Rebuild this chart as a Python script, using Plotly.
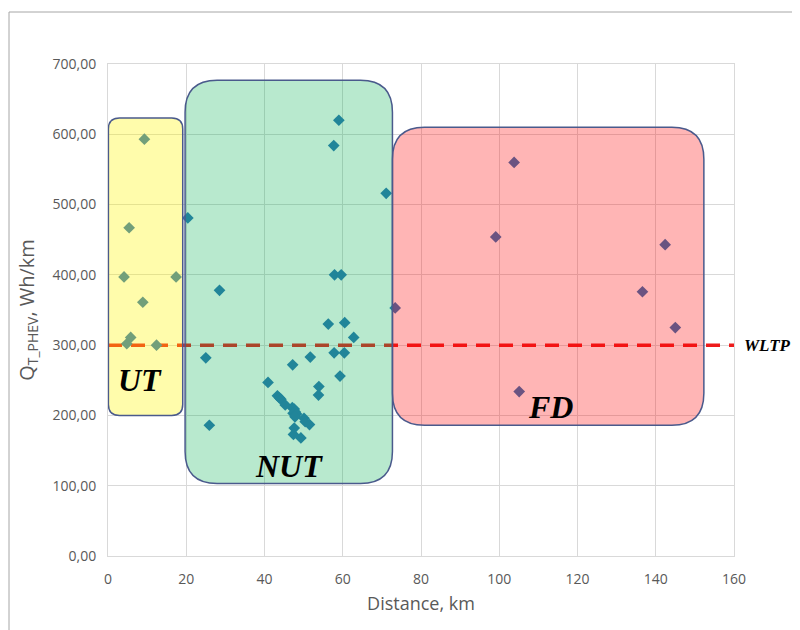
import plotly.graph_objects as go

# ---- data ----
distance_km = [9.3, 5.4, 4.1, 17.4, 8.9, 5.8, 4.8, 12.4,
               59.0, 57.7, 71.1, 20.4, 57.9, 59.6, 28.5, 25.0, 25.9, 56.3, 60.5, 62.8,
               57.8, 60.4, 51.7, 47.2, 59.3, 53.9, 53.8, 40.9, 43.3, 43.8, 44.2, 45.3,
               47.1, 47.6, 47.9, 47.3, 48.2, 47.8, 50.1, 50.4, 51.5, 47.6, 47.4, 49.3,
               103.8, 99.1, 142.4, 136.6, 145.0, 73.4, 105.1]
q_wh_km = [593, 467, 397, 397, 361, 311, 302, 300,
           620, 584, 516, 481, 400, 400, 378, 282, 186, 330, 332, 311,
           289, 289, 283, 272, 256, 241, 229, 247, 228, 225, 223, 215,
           211, 209, 205, 203, 202, 198, 196, 191, 187, 182, 173, 168,
           560, 454, 443, 376, 325, 353, 234]

wltp_value = 300
x_ticks = [0, 20, 40, 60, 80, 100, 120, 140, 160]
y_ticks = [0, 100, 200, 300, 400, 500, 600, 700]

# zones: name, x0, x1, y0, y1, fill, corner radius (px), label x, label y
zone_names = ["UT", "NUT", "FD"]
zone_x0 = [0.1, 19.7, 72.7]
zone_x1 = [19.1, 72.7, 152.3]
zone_y0 = [200, 103, 186]
zone_y1 = [623, 677, 610]
zone_fill = ["rgba(255,245,0,0.33)", "rgba(0,176,80,0.28)", "rgba(255,0,0,0.29)"]
zone_radius_px = [11, 32, 32]
zone_label_x = [8.3, 46.3, 113.0]
zone_label_y = [250, 128, 212]

# ---- geometry helpers ----
plot_w_px, plot_h_px = 626, 492
x_range = [0, 160]
y_range = [0, 700]
px_per_x = plot_w_px / (x_range[1] - x_range[0])
px_per_y = plot_h_px / (y_range[1] - y_range[0])


def rounded_rect(x0, x1, y0, y1, r_px):
    rx = r_px / px_per_x
    ry = r_px / px_per_y
    return (f"M {x0+rx},{y1} L {x1-rx},{y1} Q {x1},{y1} {x1},{y1-ry} "
            f"L {x1},{y0+ry} Q {x1},{y0} {x1-rx},{y0} "
            f"L {x0+rx},{y0} Q {x0},{y0} {x0},{y0+ry} "
            f"L {x0},{y1-ry} Q {x0},{y1} {x0+rx},{y1} Z")


fig = go.Figure()

fig.add_trace(go.Scatter(
    x=[x_range[0], x_range[1] + 0.6], y=[wltp_value, wltp_value],
    mode="lines", line=dict(color="#ee1c1c", width=3.5, dash="14px,9px"),
    cliponaxis=False, showlegend=False, hoverinfo="skip"))

fig.add_trace(go.Scatter(
    x=distance_km, y=q_wh_km, mode="markers",
    marker=dict(symbol="diamond", size=9, color="#2e75b6", line=dict(width=0)),
    showlegend=False))

shapes = []
for i in range(len(zone_names)):
    shapes.append(dict(type="path", xref="x", yref="y", layer="above",
                       path=rounded_rect(zone_x0[i], zone_x1[i], zone_y0[i], zone_y1[i], zone_radius_px[i]),
                       fillcolor=zone_fill[i], line=dict(color="#4a5a8c", width=1.5)))
# outer chart frame (page coords: plot area spans 108..734 x, 64..556 y)
shapes.append(dict(type="rect", xref="paper", yref="paper", layer="below",
                   x0=(9 - 108) / plot_w_px, x1=(820 - 108) / plot_w_px,
                   y0=(556 - 650) / plot_h_px, y1=(556 - 12) / plot_h_px,
                   line=dict(color="#a6a6a6", width=1), fillcolor="rgba(0,0,0,0)"))

annotations = []
for i in range(len(zone_names)):
    annotations.append(dict(x=zone_label_x[i], y=zone_label_y[i], xref="x", yref="y",
                            text=f"<b><i>{zone_names[i]}</i></b>", showarrow=False,
                            font=dict(family="Liberation Serif", size=32, color="black")))
annotations.append(dict(x=1.012, y=wltp_value, xref="paper", yref="y", xanchor="left",
                        text="<b><i>WLTP</i></b>", showarrow=False,
                        font=dict(family="Liberation Serif", size=17, color="black")))

fig.update_layout(
    width=800, height=630,
    margin=dict(l=100, r=74, t=56, b=82),
    paper_bgcolor="white", plot_bgcolor="white",
    separators=",.",
    shapes=shapes, annotations=annotations,
    font=dict(family="Open Sans", color="#595959"),
)
fig.update_xaxes(range=x_range, tickvals=x_ticks, showgrid=True, gridcolor="#d9d9d9",
                 zeroline=False, showline=True, linecolor="#d9d9d9", mirror=True,
                 ticks="", ticklabelstandoff=10, tickfont=dict(size=14, color="#595959"),
                 title=dict(text="Distance, km", font=dict(size=18, color="#595959"), standoff=10))
fig.update_yaxes(range=y_range, tickvals=y_ticks, tickformat=".2f", showgrid=True, gridcolor="#d9d9d9",
                 zeroline=False, showline=True, linecolor="#d9d9d9", mirror=True,
                 ticks="", ticklabelstandoff=8, tickfont=dict(size=14, color="#595959"),
                 title=dict(text="Q<sub>T_PHEV</sub>, Wh/km", font=dict(size=20, color="#595959"), standoff=12))

fig.write_html("out.html")
